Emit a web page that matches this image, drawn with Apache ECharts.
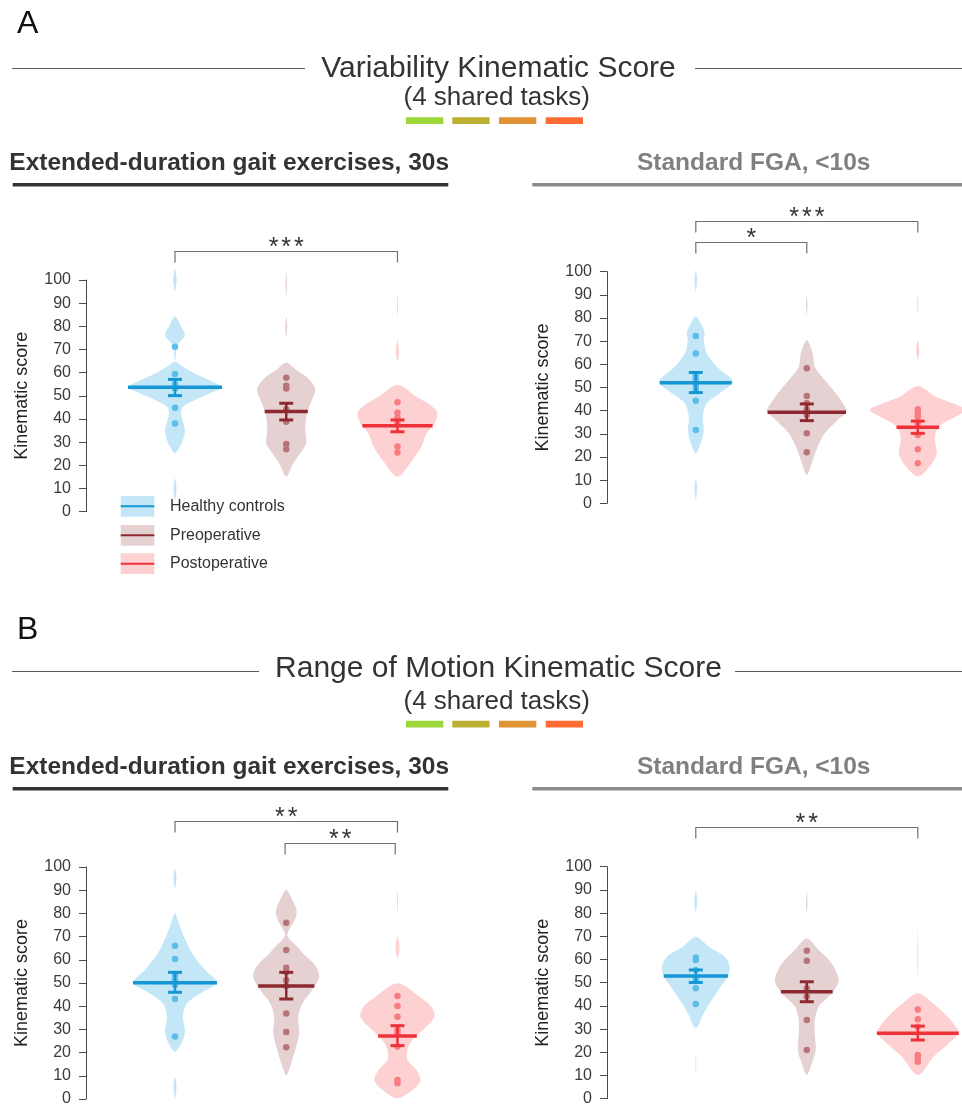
<!DOCTYPE html>
<html><head><meta charset="utf-8">
<script src="https://cdn.jsdelivr.net/npm/echarts@6/dist/echarts.min.js"></script>
<style>html,body{margin:0;padding:0;background:#fff}#c{width:962px;height:1104px}</style>
</head><body><div id="c"></div>
<script>
// ---------------- DATA ----------------
const groups = ['Healthy controls', 'Preoperative', 'Postoperative'];
const yTicks = [0, 10, 20, 30, 40, 50, 60, 70, 80, 90, 100];

// A – Variability, extended-duration gait exercises (30s)
const varExt_means = [53.7, 43.2, 37.1];
const varExt_low   = [50.1, 39.6, 34.5];
const varExt_high  = [57.1, 46.8, 39.6];
const varExt_pts_healthy = [71.2, 59.4, 55.0, 53.2, 44.9, 38.1];
const varExt_pts_preop   = [57.8, 54.4, 53.2, 44.2, 38.8, 29.2, 26.9];
const varExt_pts_postop  = [47.2, 42.7, 40.6, 38.4, 28.1, 25.6];
// violin profiles: pieces of [score, relative half-width]
const varExt_violin_healthy = [[[105,0],[100,1.7],[95,0]],[[84.2,0],[79.9,6],[76.3,10],[73.4,5],[71.5,1.5],[68,1],[65,0]],[[64.7,0],[62.6,8],[59.7,20],[56.8,34],[53.7,47],[51.1,35],[48.2,20],[45.3,8],[42.4,6],[38.8,8],[35.3,10],[30.9,8],[28.1,5],[25.2,0]],[[14.4,0],[10,1.5],[5,0]]];
const varExt_violin_preop   = [[[103.6,0],[98,0.7],[92.8,0]],[[84.2,0],[80,1],[75.5,0]],[[64.3,0],[61.2,10],[58.3,20],[53.2,29],[49.6,27],[45.3,23],[41,20],[35.3,19],[29.5,20],[25.2,14],[20.9,7],[15.1,0]]];
const varExt_violin_postop  = [[[94.2,0],[89,0.5],[84.2,0]],[[74.1,0],[69,1.5],[64.7,0]],[[54.7,0],[49.6,19],[45.3,35],[42.4,40],[38.1,37],[33.8,29],[28.1,24],[22.3,15],[15.1,0]]];
const varExt_brackets = [[0, 2, 112.6]];
const varExt_bracketLabels = ['***'];

// A – Variability, standard FGA (<10s)
const varStd_means = [52.1, 39.3, 32.8];
const varStd_low   = [47.8, 35.7, 30.2];
const varStd_high  = [56.5, 42.9, 35.5];
const varStd_pts_healthy = [72.2, 64.7, 55.1, 53.7, 50.8, 48.9, 44.3, 31.7];
const varStd_pts_preop   = [58.3, 46.3, 43.2, 40.6, 38.1, 30.2, 22.0];
const varStd_pts_postop  = [40.6, 39.1, 37.4, 34.8, 29.5, 23.3, 17.3];
const varStd_violin_healthy = [[[100.7,0],[96.4,1.3],[91.4,0]],[[80.6,0],[77,6],[73.4,9],[70.5,8],[64.7,11],[59,21],[52.5,37],[47.5,24],[43.2,11],[37.4,7],[31.7,8],[27.3,6],[21.6,0]],[[10.8,0],[6.5,1.3],[1.4,0]]];
const varStd_violin_preop   = [[[89.9,0],[85.5,0.7],[81.3,0]],[[70.5,0],[64.7,6],[59,8],[53.2,18],[47.5,29],[43.2,36],[39.6,40],[36,31],[30.2,18],[24.5,11],[18.7,6],[12.2,0]]];
const varStd_violin_postop  = [[[89.9,0],[85.5,0.5],[81.3,0]],[[70.5,0],[66,1.5],[61.9,0]],[[50.6,0],[46,18],[43.2,35],[40.3,48],[37.4,38],[34.5,25],[31.7,19],[27.3,17],[21.6,19],[16.5,13],[11.5,0]]];
const varStd_brackets = [[0, 2, 122.0], [0, 1, 112.7]];
const varStd_bracketLabels = ['***', '*'];

// B – Range of motion, extended-duration gait exercises (30s)
const romExt_means = [50.1, 48.7, 27.2];
const romExt_low   = [46.0, 43.1, 23.0];
const romExt_high  = [54.6, 54.6, 31.6];
const romExt_pts_healthy = [66.1, 60.3, 53.4, 51.3, 49.1, 43.1, 26.9];
const romExt_pts_preop   = [76.0, 64.2, 56.6, 54.6, 51.3, 48.7, 36.9, 28.9, 22.3];
const romExt_pts_postop  = [44.4, 40.1, 35.5, 29.7, 28.3, 22.6, 8.2, 6.8];
const romExt_violin_healthy = [[[99.4,0],[95.1,1.5],[90.8,0]],[[80,0],[74.3,5],[70,9],[62.8,17],[55.6,30],[50.1,42],[45.5,25],[41.2,12],[35.5,8],[29.7,10],[25.4,8],[20.4,0]],[[9.6,0],[5.3,1.5],[0.3,0]]];
const romExt_violin_preop   = [[[90.1,0],[86,6],[82,10],[79,10],[76,7],[73,3],[71,1],[69,3],[65.7,11],[62.6,17],[57.5,29],[52.7,33],[47,26],[41.2,16],[35.5,12],[28.3,13],[21.1,9],[15.4,5],[10.3,0]]];
const romExt_violin_postop  = [[[90.1,0],[85,0.5],[80,0]],[[70,0],[65,2],[60.6,0]],[[49.9,0],[44.1,22],[39.8,34],[35.5,37],[31.2,29],[25.4,15],[21.1,10],[16.8,10],[12.5,19],[8.2,23],[4.6,17],[0.3,0]]];
const romExt_brackets = [[0, 2, 119.7], [0.99, 1.98, 110.2]];
const romExt_bracketLabels = ['**', '**'];

// B – Range of motion, standard FGA (<10s)
const romStd_means = [52.9, 46.1, 28.2];
const romStd_low   = [50.1, 41.8, 25.3];
const romStd_high  = [55.5, 50.4, 31.3];
const romStd_pts_healthy = [60.9, 59.8, 55.5, 51.4, 47.6, 40.8];
const romStd_pts_preop   = [63.8, 59.5, 47.6, 44.0, 33.9, 21.0];
const romStd_pts_postop  = [38.5, 34.2, 31.0, 18.8, 17.4, 15.9];
const romStd_violin_healthy = [[[89.2,0],[85,1.5],[80.6,0]],[[69.8,0],[65.5,13],[61.2,29],[56.9,34],[52.6,32],[48.3,25],[42.5,16],[36.8,8],[30.3,0]],[[19.5,0],[15,0.5],[10.2,0]]];
const romStd_violin_preop   = [[[89.2,0],[84.5,0.7],[79.9,0]],[[69.1,0],[64.1,12],[58.3,25],[51.1,32],[45.4,25],[39.7,12],[33.9,8],[28.2,8],[21,9],[15.2,5],[10.2,0]]];
const romStd_violin_postop  = [[[72.7,0],[62,0.5],[51.1,0]],[[45.4,0],[41.1,15],[35.3,30],[31,38],[28.2,41],[23.9,31],[18.1,16],[10.2,0]]];
const romStd_brackets = [[0, 2, 117.0]];
const romStd_bracketLabels = ['**'];

// ---------------- STYLE / LAYOUT ----------------
const FONT = '"Liberation Sans", Arial, Helvetica, sans-serif';
const violinFill = ['#c4e7f8', '#e6d1d2', '#fdd1d2'];
const lineColor  = ['#1796d4', '#8c2a30', '#ee3239'];
const dotColor   = ['#5cbde9', '#b87378', '#f87c80'];
const WIDTH_UNIT = 1 / 111.2;   // relative violin width -> category units
const STAR_SPACING = 12.7;

const panels = [
  {means: varExt_means, low: varExt_low, high: varExt_high,
   pts: [varExt_pts_healthy, varExt_pts_preop, varExt_pts_postop],
   violins: [varExt_violin_healthy, varExt_violin_preop, varExt_violin_postop],
   brackets: varExt_brackets, labels: varExt_bracketLabels},
  {means: varStd_means, low: varStd_low, high: varStd_high,
   pts: [varStd_pts_healthy, varStd_pts_preop, varStd_pts_postop],
   violins: [varStd_violin_healthy, varStd_violin_preop, varStd_violin_postop],
   brackets: varStd_brackets, labels: varStd_bracketLabels},
  {means: romExt_means, low: romExt_low, high: romExt_high,
   pts: [romExt_pts_healthy, romExt_pts_preop, romExt_pts_postop],
   violins: [romExt_violin_healthy, romExt_violin_preop, romExt_violin_postop],
   brackets: romExt_brackets, labels: romExt_bracketLabels},
  {means: romStd_means, low: romStd_low, high: romStd_high,
   pts: [romStd_pts_healthy, romStd_pts_preop, romStd_pts_postop],
   violins: [romStd_violin_healthy, romStd_violin_preop, romStd_violin_postop],
   brackets: romStd_brackets, labels: romStd_bracketLabels}
];

const layout = [
  {left: 86,  top: 280,   width: 367.1, height: 231.7, xmin: -0.8, xmax: 2.5},
  {left: 607, top: 271.7, width: 355.2, height: 231.6, xmin: -0.8, xmax: 2.4},
  {left: 86,  top: 867,   width: 367.1, height: 232,   xmin: -0.8, xmax: 2.5},
  {left: 607, top: 866.7, width: 355.2, height: 232,   xmin: -0.8, xmax: 2.4}
];

function interpWidth(pieces, v) {
  for (const piece of pieces) {
    for (let i = 0; i < piece.length - 1; i++) {
      const a = piece[i], b = piece[i + 1];
      if (v <= a[0] && v >= b[0]) {
        const t = (a[0] - v) / ((a[0] - b[0]) || 1);
        return a[1] + (b[1] - a[1]) * t;
      }
    }
  }
  return 0;
}

function violinRender(violins) {
  return function (params, api) {
    const gi = api.value(0);
    const unit = api.size([1, 0])[0];
    const children = violins[gi].map(function (piece) {
      const left = piece.map(function (d) {
        const p = api.coord([gi, d[0]]);
        return [p[0] - d[1] * WIDTH_UNIT * unit, p[1]];
      });
      const right = piece.slice().reverse().filter(function (d) { return d[1] > 0; }).map(function (d) {
        const p = api.coord([gi, d[0]]);
        return [p[0] + d[1] * WIDTH_UNIT * unit, p[1]];
      });
      return {type: 'polygon', shape: {points: left.concat(right), smooth: 0.3},
              style: {fill: violinFill[gi], stroke: null}};
    });
    return {type: 'group', children: children};
  };
}

function meanRender(violins) {
  return function (params, api) {
    const gi = api.value(0), mean = api.value(1), lo = api.value(2), hi = api.value(3);
    const unit = api.size([1, 0])[0];
    const hw = interpWidth(violins[gi], mean) * WIDTH_UNIT * unit;
    const pm = api.coord([gi, mean]), pl = api.coord([gi, lo]), ph = api.coord([gi, hi]);
    const c = lineColor[gi];
    return {type: 'group', children: [
      {type: 'line', shape: {x1: pl[0], y1: pl[1], x2: ph[0], y2: ph[1]}, style: {stroke: c, lineWidth: 2.5}},
      {type: 'line', shape: {x1: pl[0] - 7, y1: pl[1], x2: pl[0] + 7, y2: pl[1]}, style: {stroke: c, lineWidth: 3}},
      {type: 'line', shape: {x1: ph[0] - 7, y1: ph[1], x2: ph[0] + 7, y2: ph[1]}, style: {stroke: c, lineWidth: 3}},
      {type: 'line', shape: {x1: pm[0] - hw, y1: pm[1], x2: pm[0] + hw, y2: pm[1]}, style: {stroke: c, lineWidth: 3.5}}
    ]};
  };
}

function bracketRender(labels) {
  return function (params, api) {
    const a = api.coord([api.value(0), api.value(2)]);
    const b = api.coord([api.value(1), api.value(2)]);
    const y = Math.round(a[1]) + 0.5;
    const label = labels[params.dataIndex];
    const n = label.length, cx = (a[0] + b[0]) / 2;
    const children = [
      {type: 'polyline', shape: {points: [[a[0], y + 11], [a[0], y], [b[0], y], [b[0], y + 11]]},
       style: {stroke: '#707070', lineWidth: 1.2, fill: null}}
    ];
    for (let k = 0; k < n; k++) {
      children.push({type: 'text', style: {text: label[k], x: cx + (k - (n - 1) / 2) * STAR_SPACING, y: y - 3.5,
        font: '25px ' + FONT, fill: '#333', textAlign: 'center', textVerticalAlign: 'middle',
        align: 'center', verticalAlign: 'middle'}});
    }
    return {type: 'group', children: children};
  };
}

const grids = [], xAxes = [], yAxes = [], series = [];
panels.forEach(function (pn, i) {
  const L = layout[i];
  grids.push({left: L.left, top: L.top, width: L.width, height: L.height, containLabel: false, outerBoundsMode: 'none'});
  xAxes.push({gridIndex: i, type: 'value', min: L.xmin, max: L.xmax, show: false,
    axisLine: {onZero: false}});
  yAxes.push({gridIndex: i, type: 'value', position: 'left', min: yTicks[0], max: yTicks[yTicks.length - 1], interval: yTicks[1] - yTicks[0],
    axisLine: {show: true, onZero: false, lineStyle: {color: '#4a4a4a', width: 1}},
    axisTick: {show: true, inside: false, length: 7, lineStyle: {color: '#4a4a4a', width: 1}},
    axisLabel: {show: true, fontSize: 16, color: '#3a3a3a', margin: 15, fontFamily: FONT},
    splitLine: {show: false},
    name: 'Kinematic score', nameLocation: 'middle', nameGap: 55,
    nameTextStyle: {fontSize: 18, color: '#222', fontFamily: FONT}});
  series.push({type: 'custom', xAxisIndex: i, yAxisIndex: i, z: 1, clip: false, silent: true,
    renderItem: violinRender(pn.violins), data: groups.map(function (g, gi) { return [gi]; })});
  groups.forEach(function (g, gi) {
    series.push({type: 'scatter', name: g, xAxisIndex: i, yAxisIndex: i, z: 2, symbolSize: 6.5, silent: true,
      itemStyle: {color: dotColor[gi], opacity: 1},
      data: pn.pts[gi].map(function (v) { return [gi, v]; })});
  });
  series.push({type: 'custom', xAxisIndex: i, yAxisIndex: i, z: 3, clip: false, silent: true,
    renderItem: meanRender(pn.violins),
    data: groups.map(function (g, gi) { return [gi, pn.means[gi], pn.low[gi], pn.high[gi]]; })});
  series.push({type: 'custom', xAxisIndex: i, yAxisIndex: i, z: 3, clip: false, silent: true,
    renderItem: bracketRender(pn.labels), data: pn.brackets});
});

// ---------------- TITLES / DECORATION ----------------
const swatchColors = ['#9cd639', '#bdb134', '#df9334', '#ff6c33'];
const swatchX = [406, 452.3, 499, 545.7];
function txt(t, x, y, font, fill, align) {
  return {type: 'text', style: {text: t, x: x, y: y, font: font, fill: fill,
    textAlign: align, textVerticalAlign: 'middle', align: align, verticalAlign: 'middle'}};
}
function hline(x1, x2, y, color, w) {
  return {type: 'line', shape: {x1: x1, y1: y, x2: x2, y2: y}, style: {stroke: color, lineWidth: w}};
}
const graphic = [];
function section(letter, letterY, title, titleY, lineY, lineL, lineR, subY, swY, subtitleY, underY) {
  graphic.push(txt(letter, 17, letterY, '32px ' + FONT, '#111', 'left'));
  graphic.push(txt(title, 498.5, titleY, '30px ' + FONT, '#333', 'center'));
  graphic.push(hline(12, lineL, lineY, '#5a5a5a', 1));
  graphic.push(hline(lineR, 962, lineY, '#5a5a5a', 1));
  graphic.push(txt('(4 shared tasks)', 496.7, subY, '26px ' + FONT, '#333', 'center'));
  swatchX.forEach(function (x, k) {
    graphic.push({type: 'rect', shape: {x: x, y: swY, width: 37.3, height: 6.7}, style: {fill: swatchColors[k]}});
  });
  graphic.push(txt('Extended-duration gait exercises, 30s', 9.3, subtitleY, 'bold 24.5px ' + FONT, '#333', 'left'));
  graphic.push({type: 'rect', shape: {x: 12.7, y: underY, width: 435.6, height: 3.5}, style: {fill: '#333'}});
  graphic.push(txt('Standard FGA, <10s', 753.7, subtitleY, 'bold 24.5px ' + FONT, '#808080', 'center'));
  graphic.push({type: 'rect', shape: {x: 532.3, y: underY, width: 430, height: 3.5}, style: {fill: '#8a8a8a'}});
}
section('A', 24, 'Variability Kinematic Score', 69.2, 68.5, 305, 695, 98, 117.3, 163.5, 183);
section('B', 630, 'Range of Motion Kinematic Score', 668.8, 671.5, 259, 735, 702, 720.7, 767, 787);

// legend
const legY = [496, 525, 553.3];
groups.forEach(function (g, gi) {
  graphic.push({type: 'rect', shape: {x: 120.7, y: legY[gi], width: 33.6, height: 20.7}, style: {fill: violinFill[gi]}});
  graphic.push(hline(120.7, 154.3, legY[gi] + 10.35, lineColor[gi], 2));
  graphic.push(txt(g, 170, legY[gi] + 10.35, '16px ' + FONT, '#333', 'left'));
});

const chart = echarts.init(document.getElementById('c'), null, {renderer: 'canvas'});
chart.setOption({
  animation: false,
  backgroundColor: '#fff',
  textStyle: {fontFamily: FONT},
  grid: grids, xAxis: xAxes, yAxis: yAxes, series: series,
  graphic: graphic
});
</script>
</body></html>
